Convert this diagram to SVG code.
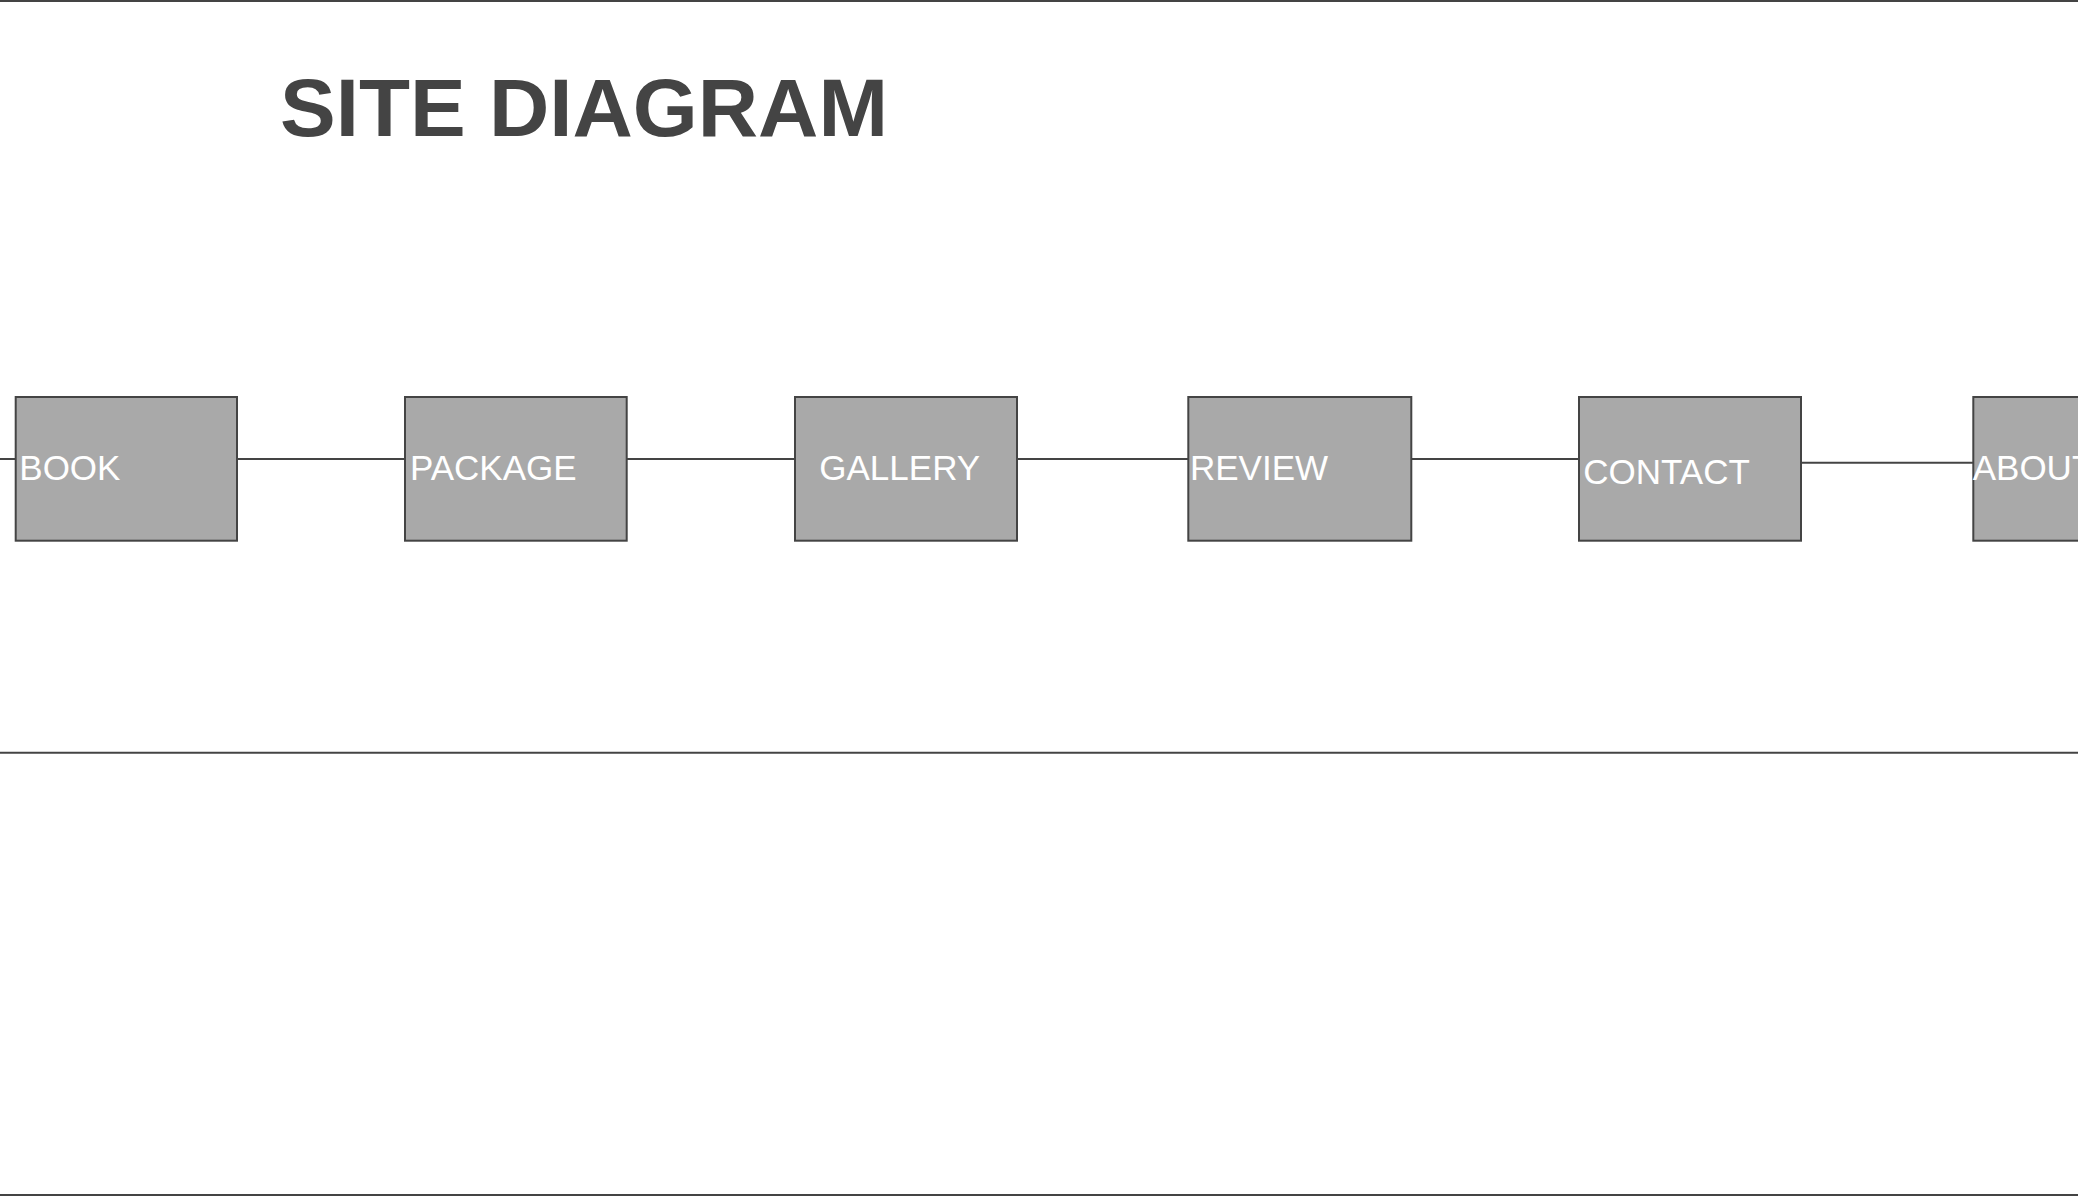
<svg xmlns="http://www.w3.org/2000/svg" width="2078" height="1200" viewBox="0 0 2078 1200">
<style>
.box{fill:#a9a9a9;stroke:#444;stroke-width:2}
.lbl{font-family:"Liberation Sans",Arial,sans-serif;font-size:35px;fill:#fff}
.conn{stroke:#444;stroke-width:2;fill:none}
.rule{stroke:#444;stroke-width:2}
</style>
<rect x="0" y="0" width="2078" height="1200" fill="#fff"/>
<g id="rules">
<line class="rule" x1="0" y1="1" x2="2078" y2="1"/>
<line class="rule" x1="0" y1="752.7" x2="2078" y2="752.7"/>
<line class="rule" x1="0" y1="1195" x2="2078" y2="1195"/>
</g>
<text id="title" x="280" y="136" font-family="'Liberation Sans',Arial,sans-serif" font-weight="bold" font-size="81" fill="#444" textLength="608" lengthAdjust="spacingAndGlyphs">SITE DIAGRAM</text>
<g id="connectors">
<line class="conn" x1="0" y1="459" x2="20" y2="459"/>
<line class="conn" x1="234.7" y1="459" x2="408" y2="459"/>
<line class="conn" x1="624" y1="459" x2="800" y2="459"/>
<line class="conn" x1="1014" y1="459" x2="1189" y2="459"/>
<line class="conn" x1="1404" y1="459" x2="1579" y2="459"/>
<line class="conn" x1="1798" y1="462.7" x2="1973" y2="462.7"/>
</g>
<g id="book"><rect class="box" x="15.7" y="397" width="221.3" height="143.7"/><text class="lbl" x="19.3" y="480">BOOK</text></g>
<g id="package"><rect class="box" x="405" y="397" width="221.7" height="143.7"/><text class="lbl" x="410" y="480">PACKAGE</text></g>
<g id="gallery"><rect class="box" x="795" y="397" width="222" height="143.7"/><text class="lbl" x="819.3" y="480">GALLERY</text></g>
<g id="review"><rect class="box" x="1188.3" y="397" width="223" height="143.7"/><text class="lbl" x="1190" y="480">REVIEW</text></g>
<g id="contact"><rect class="box" x="1579" y="397" width="222" height="143.7"/><text class="lbl" x="1583.3" y="484">CONTACT</text></g>
<g id="about"><rect class="box" x="1973.3" y="397" width="222" height="143.7"/><text class="lbl" x="1972.7" y="480">ABOUT</text></g>
</svg>
